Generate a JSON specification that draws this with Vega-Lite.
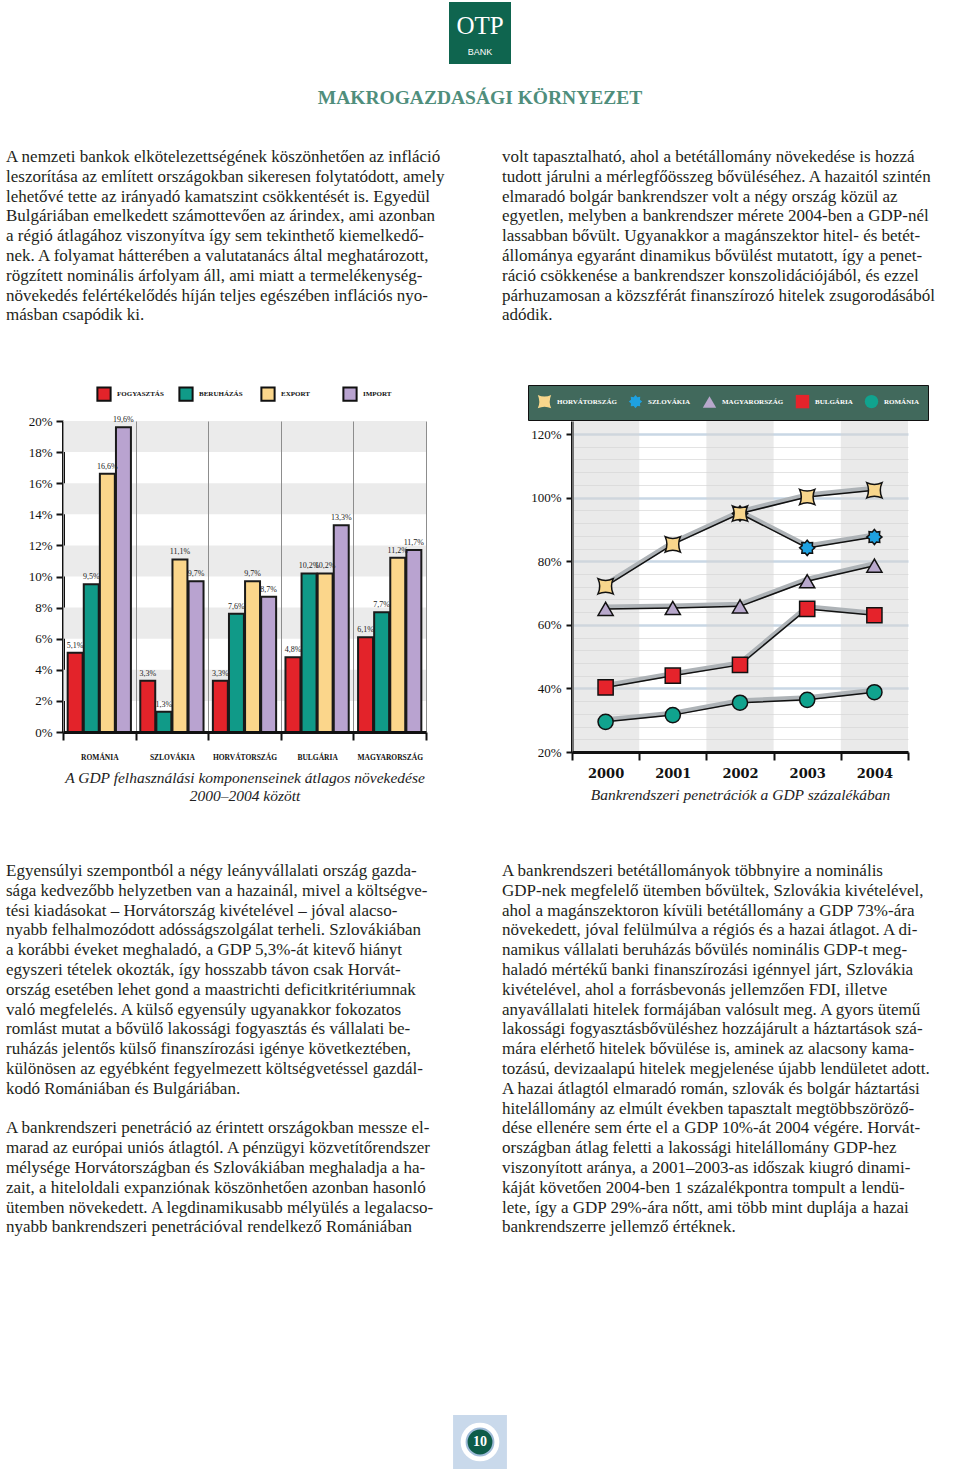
{
"$schema": "https://vega.github.io/schema/vega-lite/v6.json",
"background": "white",
"padding": {"left": 6, "top": 0, "right": 0, "bottom": 0},
"config": {
  "view": {"stroke": null},
  "locale": {"number": {"decimal": ",", "thousands": " ", "grouping": [3], "currency": ["", ""]}},
  "font": "Liberation Serif"
},
"datasets": {
  "one": [{}],
  "bars": [
    {"country": "ROMÁNIA", "comp": "FOGYASZTÁS", "v": 0.051},
    {"country": "ROMÁNIA", "comp": "BERUHÁZÁS", "v": 0.095},
    {"country": "ROMÁNIA", "comp": "EXPORT", "v": 0.166},
    {"country": "ROMÁNIA", "comp": "IMPORT", "v": 0.196},
    {"country": "SZLOVÁKIA", "comp": "FOGYASZTÁS", "v": 0.033},
    {"country": "SZLOVÁKIA", "comp": "BERUHÁZÁS", "v": 0.013},
    {"country": "SZLOVÁKIA", "comp": "EXPORT", "v": 0.111},
    {"country": "SZLOVÁKIA", "comp": "IMPORT", "v": 0.097},
    {"country": "HORVÁTORSZÁG", "comp": "FOGYASZTÁS", "v": 0.033},
    {"country": "HORVÁTORSZÁG", "comp": "BERUHÁZÁS", "v": 0.076},
    {"country": "HORVÁTORSZÁG", "comp": "EXPORT", "v": 0.097},
    {"country": "HORVÁTORSZÁG", "comp": "IMPORT", "v": 0.087},
    {"country": "BULGÁRIA", "comp": "FOGYASZTÁS", "v": 0.048},
    {"country": "BULGÁRIA", "comp": "BERUHÁZÁS", "v": 0.102},
    {"country": "BULGÁRIA", "comp": "EXPORT", "v": 0.102},
    {"country": "BULGÁRIA", "comp": "IMPORT", "v": 0.133},
    {"country": "MAGYARORSZÁG", "comp": "FOGYASZTÁS", "v": 0.061},
    {"country": "MAGYARORSZÁG", "comp": "BERUHÁZÁS", "v": 0.077},
    {"country": "MAGYARORSZÁG", "comp": "EXPORT", "v": 0.112},
    {"country": "MAGYARORSZÁG", "comp": "IMPORT", "v": 0.117}
  ],
  "zebra": [
    {"lo": 0.02, "hi": 0.04}, {"lo": 0.06, "hi": 0.08}, {"lo": 0.10, "hi": 0.12}, {"lo": 0.14, "hi": 0.16}, {"lo": 0.18, "hi": 0.20}
  ],
  "cols": [{"year": "2000"}, {"year": "2002"}, {"year": "2004"}],
  "pen": [
    {"series": "SZLOVÁKIA", "year": "2002", "value": 0.95},
    {"series": "SZLOVÁKIA", "year": "2003", "value": 0.842},
    {"series": "SZLOVÁKIA", "year": "2004", "value": 0.876},
    {"series": "HORVÁTORSZÁG", "year": "2000", "value": 0.721},
    {"series": "HORVÁTORSZÁG", "year": "2001", "value": 0.853},
    {"series": "HORVÁTORSZÁG", "year": "2002", "value": 0.95},
    {"series": "HORVÁTORSZÁG", "year": "2003", "value": 1.002},
    {"series": "HORVÁTORSZÁG", "year": "2004", "value": 1.023},
    {"series": "MAGYARORSZÁG", "year": "2000", "value": 0.65},
    {"series": "MAGYARORSZÁG", "year": "2001", "value": 0.653},
    {"series": "MAGYARORSZÁG", "year": "2002", "value": 0.658},
    {"series": "MAGYARORSZÁG", "year": "2003", "value": 0.737},
    {"series": "MAGYARORSZÁG", "year": "2004", "value": 0.786},
    {"series": "BULGÁRIA", "year": "2000", "value": 0.403},
    {"series": "BULGÁRIA", "year": "2001", "value": 0.44},
    {"series": "BULGÁRIA", "year": "2002", "value": 0.474},
    {"series": "BULGÁRIA", "year": "2003", "value": 0.65},
    {"series": "BULGÁRIA", "year": "2004", "value": 0.63},
    {"series": "ROMÁNIA", "year": "2000", "value": 0.295},
    {"series": "ROMÁNIA", "year": "2001", "value": 0.316},
    {"series": "ROMÁNIA", "year": "2002", "value": 0.355},
    {"series": "ROMÁNIA", "year": "2003", "value": 0.364},
    {"series": "ROMÁNIA", "year": "2004", "value": 0.388}
  ],
  "topL": [
    {"line": 0, "text": "A nemzeti bankok elkötelezettségének köszönhetően az infláció"},
    {"line": 1, "text": "leszorítása az említett országokban sikeresen folytatódott, amely"},
    {"line": 2, "text": "lehetővé tette az irányadó kamatszint csökkentését is. Egyedül"},
    {"line": 3, "text": "Bulgáriában emelkedett számottevően az árindex, ami azonban"},
    {"line": 4, "text": "a régió átlagához viszonyítva így sem tekinthető kiemelkedő-"},
    {"line": 5, "text": "nek. A folyamat hátterében a valutatanács által meghatározott,"},
    {"line": 6, "text": "rögzített nominális árfolyam áll, ami miatt a termelékenység-"},
    {"line": 7, "text": "növekedés felértékelődés híján teljes egészében inflációs nyo-"},
    {"line": 8, "text": "másban csapódik ki."}
  ],
  "topR": [
    {"line": 0, "text": "volt tapasztalható, ahol a betétállomány növekedése is hozzá"},
    {"line": 1, "text": "tudott járulni a mérlegfőösszeg bővüléséhez. A hazaitól szintén"},
    {"line": 2, "text": "elmaradó bolgár bankrendszer volt a négy ország közül az"},
    {"line": 3, "text": "egyetlen, melyben a bankrendszer mérete 2004-ben a GDP-nél"},
    {"line": 4, "text": "lassabban bővült. Ugyanakkor a magánszektor hitel- és betét-"},
    {"line": 5, "text": "állománya egyaránt dinamikus bővülést mutatott, így a penet-"},
    {"line": 6, "text": "ráció csökkenése a bankrendszer konszolidációjából, és ezzel"},
    {"line": 7, "text": "párhuzamosan a közszférát finanszírozó hitelek zsugorodásából"},
    {"line": 8, "text": "adódik."}
  ],
  "botL": [
    {"line": 0, "text": "Egyensúlyi szempontból a négy leányvállalati ország gazda-"},
    {"line": 1, "text": "sága kedvezőbb helyzetben van a hazainál, mivel a költségve-"},
    {"line": 2, "text": "tési kiadásokat – Horvátország kivételével – jóval alacso-"},
    {"line": 3, "text": "nyabb felhalmozódott adósságszolgálat terheli. Szlovákiában"},
    {"line": 4, "text": "a korábbi éveket meghaladó, a GDP 5,3%-át kitevő hiányt"},
    {"line": 5, "text": "egyszeri tételek okozták, így hosszabb távon csak Horvát-"},
    {"line": 6, "text": "ország esetében lehet gond a maastrichti deficitkritériumnak"},
    {"line": 7, "text": "való megfelelés. A külső egyensúly ugyanakkor fokozatos"},
    {"line": 8, "text": "romlást mutat a bővülő lakossági fogyasztás és vállalati be-"},
    {"line": 9, "text": "ruházás jelentős külső finanszírozási igénye következtében,"},
    {"line": 10, "text": "különösen az egyébként fegyelmezett költségvetéssel gazdál-"},
    {"line": 11, "text": "kodó Romániában és Bulgáriában."},
    {"line": 13, "text": "A bankrendszeri penetráció az érintett országokban messze el-"},
    {"line": 14, "text": "marad az európai uniós átlagtól. A pénzügyi közvetítőrendszer"},
    {"line": 15, "text": "mélysége Horvátországban és Szlovákiában meghaladja a ha-"},
    {"line": 16, "text": "zait, a hiteloldali expanziónak köszönhetően azonban hasonló"},
    {"line": 17, "text": "ütemben növekedett. A legdinamikusabb mélyülés a legalacso-"},
    {"line": 18, "text": "nyabb bankrendszeri penetrációval rendelkező Romániában"}
  ],
  "botR": [
    {"line": 0, "text": "A bankrendszeri betétállományok többnyire a nominális"},
    {"line": 1, "text": "GDP-nek megfelelő ütemben bővültek, Szlovákia kivételével,"},
    {"line": 2, "text": "ahol a magánszektoron kívüli betétállomány a GDP 73%-ára"},
    {"line": 3, "text": "növekedett, jóval felülmúlva a régiós és a hazai átlagot. A di-"},
    {"line": 4, "text": "namikus vállalati beruházás bővülés nominális GDP-t meg-"},
    {"line": 5, "text": "haladó mértékű banki finanszírozási igénnyel járt, Szlovákia"},
    {"line": 6, "text": "kivételével, ahol a forrásbevonás jellemzően FDI, illetve"},
    {"line": 7, "text": "anyavállalati hitelek formájában valósult meg. A gyors ütemű"},
    {"line": 8, "text": "lakossági fogyasztásbővüléshez hozzájárult a háztartások szá-"},
    {"line": 9, "text": "mára elérhető hitelek bővülése is, aminek az alacsony kama-"},
    {"line": 10, "text": "tozású, devizaalapú hitelek megjelenése újabb lendületet adott."},
    {"line": 11, "text": "A hazai átlagtól elmaradó román, szlovák és bolgár háztartási"},
    {"line": 12, "text": "hitelállomány az elmúlt években tapasztalt megtöbbszöröző-"},
    {"line": 13, "text": "dése ellenére sem érte el a GDP 10%-át 2004 végére. Horvát-"},
    {"line": 14, "text": "országban átlag feletti a lakossági hitelállomány GDP-hez"},
    {"line": 15, "text": "viszonyított aránya, a 2001–2003-as időszak kiugró dinami-"},
    {"line": 16, "text": "káját követően 2004-ben 1 százalékpontra tompult a lendü-"},
    {"line": 17, "text": "lete, így a GDP 29%-ára nőtt, ami több mint duplája a hazai"},
    {"line": 18, "text": "bankrendszerre jellemző értéknek."}
  ]
},
"concat": [
  {"width": 363, "height": 130, "data": {"name": "one"},
   "layer": [
     {"mark": {"type": "point", "shape": "square", "size": 3844, "filled": true, "color": "#0f654f", "opacity": 1},
      "encoding": {"x": {"datum": 0, "type": "quantitative", "scale": {"domain": [-1, 1], "range": [0, 834]}, "axis": null}, "y": {"datum": 0, "type": "quantitative", "scale": {"domain": [0, 1], "range": [33, 98]}, "axis": null}}},
     {"mark": {"type": "text", "text": "OTP", "font": "Liberation Serif", "fontSize": 25, "color": "white", "dy": -7},
      "encoding": {"x": {"datum": 0, "type": "quantitative"}, "y": {"datum": 0, "type": "quantitative"}}},
     {"mark": {"type": "text", "text": "BANK", "font": "Liberation Sans", "fontSize": 9, "color": "white", "dy": 19},
      "encoding": {"x": {"datum": 0, "type": "quantitative"}, "y": {"datum": 0, "type": "quantitative"}}},
     {"mark": {"type": "text", "text": "MAKROGAZDASÁGI KÖRNYEZET", "font": "Liberation Serif", "fontWeight": "bold", "fontSize": 19.5, "color": "#4f8e7c"},
      "encoding": {"x": {"datum": 0, "type": "quantitative"}, "y": {"datum": 1, "type": "quantitative"}}}
   ]},
  {"width": 336, "height": 130, "data": {"name": "one"}, "mark": {"type": "text", "text": ""},
   "encoding": {"x": {"datum": 0, "type": "quantitative", "scale": {"domain": [-1, 1]}, "axis": null}, "y": {"datum": 0, "type": "quantitative", "scale": {"domain": [-1, 1]}, "axis": null}}},

  {"width": 363, "height": 291, "data": {"name": "topL"},
   "mark": {"type": "text", "align": "left", "baseline": "alphabetic", "font": "Liberation Serif", "fontSize": 17, "color": "#231f20"},
   "encoding": {
     "x": {"datum": 0, "type": "quantitative", "scale": {"domain": [0, 1], "range": [-57, 0]}, "axis": null},
     "y": {"field": "line", "type": "quantitative", "scale": {"domain": [-1.616, 13.081], "reverse": true, "nice": false, "zero": false}, "axis": null},
     "text": {"field": "text"}
   }},
  {"width": 336, "height": 291, "data": {"name": "topR"},
   "mark": {"type": "text", "align": "left", "baseline": "alphabetic", "font": "Liberation Serif", "fontSize": 17, "color": "#231f20"},
   "encoding": {
     "x": {"datum": 0, "type": "quantitative", "scale": {"domain": [0, 1], "range": [-70, 0]}, "axis": null},
     "y": {"field": "line", "type": "quantitative", "scale": {"domain": [-1.616, 13.081], "reverse": true, "nice": false, "zero": false}, "axis": null},
     "text": {"field": "text"}
   }},

  {"width": 363, "height": 311,
   "layer": [
     {"data": {"name": "zebra"}, "mark": {"type": "rect", "color": "#ebebeb"},
      "encoding": {"y": {"field": "lo", "type": "quantitative", "scale": {"domain": [0, 0.2], "nice": false, "zero": false},
          "axis": {"orient": "left", "values": [0, 0.02, 0.04, 0.06, 0.08, 0.1, 0.12, 0.14, 0.16, 0.18, 0.2], "format": ".0%", "grid": false, "labelOverlap": false,
            "domainColor": "#111", "domainWidth": 3, "tickColor": "#111", "tickWidth": 2, "tickSize": 7,
            "labelFont": "Liberation Serif", "labelFontSize": 13, "labelColor": "#111", "labelPadding": 4, "title": null}},
        "y2": {"field": "hi"}}},
     {"data": {"name": "bars"},
      "encoding": {
        "x": {"field": "country", "type": "nominal",
          "scale": {"domain": ["ROMÁNIA", "SZLOVÁKIA", "HORVÁTORSZÁG", "BULGÁRIA", "MAGYARORSZÁG"], "paddingInner": 0, "paddingOuter": 0},
          "axis": {"orient": "bottom", "tickBand": "extent", "grid": true, "gridColor": "#8d8d8d", "gridWidth": 1, "zindex": 1,
            "domainColor": "#111", "domainWidth": 3, "tickColor": "#111", "tickWidth": 2, "tickSize": 8,
            "labelFont": "Liberation Serif", "labelFontWeight": "bold", "labelFontSize": 7.5, "labelColor": "#111", "labelPadding": 13, "labelAngle": 0,
            "title": ["A GDP felhasználási komponenseinek átlagos növekedése", "2000–2004 között"],
            "titleFont": "Liberation Serif", "titleFontStyle": "italic", "titleFontWeight": "normal", "titleFontSize": 15.5, "titleColor": "#222", "titleLineHeight": 18, "titlePadding": 10}},
        "xOffset": {"field": "comp", "type": "nominal", "scale": {"domain": ["FOGYASZTÁS", "BERUHÁZÁS", "EXPORT", "IMPORT"], "paddingInner": 0.07, "paddingOuter": 0.29}},
        "y": {"field": "v", "type": "quantitative",
          "axis": {"orient": "left", "values": [0, 0.02, 0.04, 0.06, 0.08, 0.1, 0.12, 0.14, 0.16, 0.18, 0.2], "format": ".0%", "grid": false, "labelOverlap": false,
            "domainColor": "#111", "domainWidth": 3, "tickColor": "#111", "tickWidth": 2, "tickSize": 7,
            "labelFont": "Liberation Serif", "labelFontSize": 13, "labelColor": "#111", "labelPadding": 4, "title": null}}
      },
      "layer": [
        {"mark": {"type": "bar", "stroke": "#1a1a1a", "strokeWidth": 2},
         "encoding": {"fill": {"field": "comp", "type": "nominal",
           "scale": {"domain": ["FOGYASZTÁS", "BERUHÁZÁS", "EXPORT", "IMPORT"], "range": ["#e3232a", "#109a88", "#fbd68b", "#b9a3d0"]},
           "legend": {"orient": "none", "legendX": 33, "legendY": -35, "direction": "horizontal", "title": null, "columns": 4, "gridAlign": "all",
             "symbolType": "square", "symbolSize": 175, "symbolStrokeColor": "#111", "symbolStrokeWidth": 2,
             "labelFont": "Liberation Serif", "labelFontWeight": "bold", "labelFontSize": 7, "labelColor": "#111", "labelOffset": 5, "columnPadding": 11}}}},
        {"mark": {"type": "text", "baseline": "bottom", "dy": -3, "fontSize": 8, "font": "Liberation Serif", "color": "#222"},
         "encoding": {"text": {"field": "v", "type": "quantitative", "format": ".1%"}}}
      ]}
   ]},
  {"width": 336, "height": 331,
   "layer": [
     {"data": {"name": "cols"}, "mark": {"type": "rect", "color": "#d6d6d6", "opacity": 0.5},
      "encoding": {"x": {"field": "year", "type": "ordinal", "scale": {"type": "band", "domain": ["2000", "2001", "2002", "2003", "2004"], "paddingInner": 0, "paddingOuter": 0},
        "axis": {"orient": "bottom", "tickBand": "extent", "grid": false,
          "domainColor": "#111", "domainWidth": 3, "tickColor": "#111", "tickWidth": 2, "tickSize": 8,
          "labelFont": "DejaVu Serif", "labelFontWeight": "bold", "labelFontSize": 13, "labelColor": "#111", "labelPadding": 7, "labelAngle": 0,
          "title": "Bankrendszeri penetrációk a GDP százalékában",
          "titleFont": "Liberation Serif", "titleFontStyle": "italic", "titleFontWeight": "normal", "titleFontSize": 15.5, "titleColor": "#222", "titlePadding": 7}}}},
     {"data": {"name": "pen"},
      "encoding": {
        "x": {"field": "year", "type": "ordinal"},
        "y": {"field": "value", "type": "quantitative", "scale": {"domain": [0.2, 1.241], "nice": false, "zero": false},
          "axis": {"orient": "left", "values": [0.2, 0.24, 0.28, 0.32, 0.36, 0.4, 0.44, 0.48, 0.52, 0.56, 0.6, 0.64, 0.68, 0.72, 0.76, 0.8, 0.84, 0.88, 0.92, 0.96, 1.0, 1.04, 1.08, 1.12, 1.16, 1.2],
            "format": ".0%", "labelOverlap": false,
            "labelExpr": "abs(datum.value*5 - round(datum.value*5)) < 0.001 ? datum.label : ''",
            "tickOpacity": {"condition": {"test": "abs(datum.value*5 - round(datum.value*5)) < 0.001", "value": 1}, "value": 0},
            "grid": true,
            "gridColor": {"condition": {"test": "abs(datum.value*5 - round(datum.value*5)) < 0.001", "value": "#c9d7e5"}, "value": "#e3e3e3"},
            "gridWidth": {"condition": {"test": "abs(datum.value*5 - round(datum.value*5)) < 0.001", "value": 2.5}, "value": 1},
            "domainColor": "#111", "domainWidth": 3, "tickColor": "#111", "tickWidth": 2, "tickSize": 6,
            "labelFont": "Liberation Serif", "labelFontSize": 13, "labelColor": "#111", "labelPadding": 5, "title": null}}
      },
      "layer": [
        {"mark": {"type": "line", "stroke": "#aeb3b7", "strokeWidth": 5, "yOffset": -2, "strokeCap": "round"}, "encoding": {"detail": {"field": "series"}}},
        {"mark": {"type": "line", "stroke": "#111", "strokeWidth": 1.5}, "encoding": {"detail": {"field": "series"}}},
        {"mark": {"type": "point", "filled": true, "size": 230, "stroke": "#111", "strokeWidth": 1.5, "opacity": 1},
         "encoding": {
           "shape": {"field": "series", "type": "nominal",
             "scale": {"domain": ["HORVÁTORSZÁG", "SZLOVÁKIA", "MAGYARORSZÁG", "BULGÁRIA", "ROMÁNIA"],
               "range": ["M-1,-1Q0,-0.55,1,-1Q0.55,0,1,1Q0,0.55,-1,1Q-0.55,0,-1,-1Z",
                         "M0,-1L0.276,-0.665L0.707,-0.707L0.665,-0.276L1,0L0.665,0.276L0.707,0.707L0.276,0.665L0,1L-0.276,0.665L-0.707,0.707L-0.665,0.276L-1,0L-0.665,-0.276L-0.707,-0.707L-0.276,-0.665Z",
                         "triangle-up", "square", "circle"]},
             "legend": {"orient": "none", "legendX": -44, "legendY": -36, "direction": "horizontal", "title": null,
               "fillColor": "#41695c", "strokeColor": "#111", "padding": 9,
               "labelColor": "white", "labelFont": "Liberation Serif", "labelFontWeight": "bold", "labelFontSize": 7, "labelOffset": 5,
               "symbolSize": 180, "symbolStrokeColor": "#111", "symbolStrokeWidth": 1.3, "columnPadding": 9}},
           "fill": {"field": "series", "type": "nominal",
             "scale": {"domain": ["HORVÁTORSZÁG", "SZLOVÁKIA", "MAGYARORSZÁG", "BULGÁRIA", "ROMÁNIA"],
               "range": ["#f8d68c", "#1ea1e0", "#b8a8cc", "#e5232b", "#10a38e"]},
             "legend": {"orient": "none", "legendX": -44, "legendY": -36, "direction": "horizontal", "title": null,
               "fillColor": "#41695c", "strokeColor": "#111", "padding": 9,
               "labelColor": "white", "labelFont": "Liberation Serif", "labelFontWeight": "bold", "labelFontSize": 7, "labelOffset": 5,
               "symbolSize": 180, "symbolStrokeColor": "#111", "symbolStrokeWidth": 1.3, "columnPadding": 9}}
         }}
      ]}
   ]},

  {"width": 363, "height": 648, "data": {"name": "botL"},
   "mark": {"type": "text", "align": "left", "baseline": "alphabetic", "font": "Liberation Serif", "fontSize": 17, "color": "#231f20"},
   "encoding": {
     "x": {"datum": 0, "type": "quantitative", "scale": {"domain": [0, 1], "range": [-57, 0]}, "axis": null},
     "y": {"field": "line", "type": "quantitative", "scale": {"domain": [-6.263, 26.465], "reverse": true, "nice": false, "zero": false}, "axis": null},
     "text": {"field": "text"}
   }},
  {"width": 336, "height": 648, "data": {"name": "botR"},
   "mark": {"type": "text", "align": "left", "baseline": "alphabetic", "font": "Liberation Serif", "fontSize": 17, "color": "#231f20"},
   "encoding": {
     "x": {"datum": 0, "type": "quantitative", "scale": {"domain": [0, 1], "range": [-70, 0]}, "axis": null},
     "y": {"field": "line", "type": "quantitative", "scale": {"domain": [-6.263, 26.465], "reverse": true, "nice": false, "zero": false}, "axis": null},
     "text": {"field": "text"}
   }},

  {"width": 363, "height": 84, "data": {"name": "one"},
   "encoding": {"x": {"datum": 0, "type": "quantitative", "scale": {"domain": [-1, 1], "range": [0, 834]}, "axis": null}, "y": {"datum": 0, "type": "quantitative", "scale": {"domain": [-1, 1]}, "axis": null}},
   "layer": [
     {"mark": {"type": "point", "shape": "square", "size": 2900, "filled": true, "color": "#c9d9eb", "opacity": 1}},
     {"mark": {"type": "point", "shape": "circle", "size": 1500, "filled": true, "color": "white", "opacity": 1}},
     {"mark": {"type": "point", "shape": "circle", "size": 720, "filled": true, "color": "#0e5c49", "stroke": "#9fbbd8", "strokeWidth": 2, "opacity": 1}},
     {"mark": {"type": "text", "text": "10", "font": "Liberation Serif", "fontWeight": "bold", "fontSize": 14, "color": "white"}}
   ]},
  {"width": 336, "height": 84, "data": {"name": "one"}, "mark": {"type": "text", "text": ""},
   "encoding": {"x": {"datum": 0, "type": "quantitative", "scale": {"domain": [-1, 1]}, "axis": null}, "y": {"datum": 0, "type": "quantitative", "scale": {"domain": [-1, 1]}, "axis": null}}}
],
"columns": 2,
"align": "each",
"spacing": {"row": 0, "column": 146},
"bounds": "flush",
"resolve": {"scale": {"fill": "independent", "shape": "independent"}}
}
